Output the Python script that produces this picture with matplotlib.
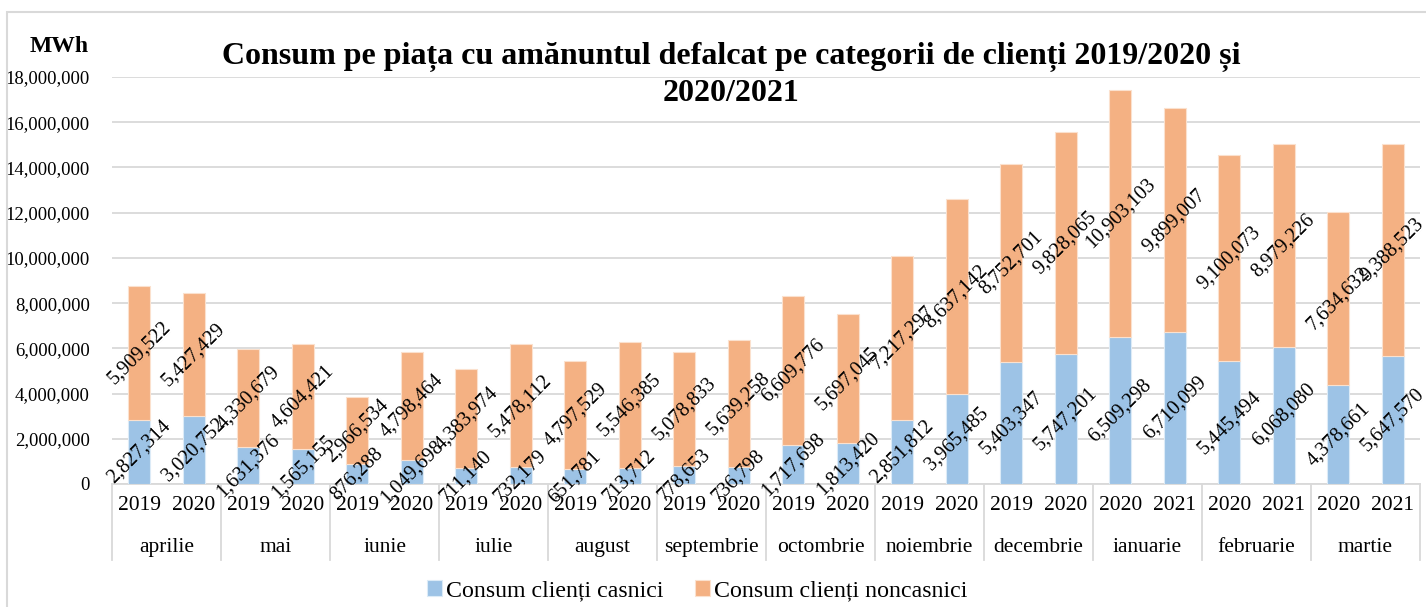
import numpy as np
import matplotlib
matplotlib.use("Agg")
from matplotlib import pyplot as plt
from matplotlib.patches import Rectangle

plt.rcParams['font.family'] = ['Liberation Serif', 'DejaVu Serif']

months = ['aprilie', 'mai', 'iunie', 'iulie', 'august', 'septembrie', 'octombrie',
          'noiembrie', 'decembrie', 'ianuarie', 'februarie', 'martie']
years = ['2019', '2020'] * 9 + ['2020', '2021'] * 3
casnici = [2827314, 3020752, 1631376, 1565155, 876288, 1049698, 711140, 732179,
           651781, 713712, 778653, 736798, 1717698, 1813420, 2851812, 3965485,
           5403347, 5747201, 6509298, 6710099, 5445494, 6068080, 4378661, 5647570]
noncasnici = [5909522, 5427429, 4330679, 4604421, 2966534, 4798464, 4383974, 5478112,
              4797529, 5546385, 5078833, 5639258, 6609776, 5697045, 7217297, 8637142,
              8752701, 9828065, 10903103, 9899007, 9100073, 8979226, 7634632, 9388523]

blue = '#9DC3E6'
orange = '#F4B183'

fig = plt.figure(figsize=(14.26, 6.07), dpi=100)
ax = fig.add_axes([112 / 1426, (607 - 484) / 607, (1420 - 112) / 1426, (484 - 77) / 607])

x = np.arange(len(years))
casnici = np.array(casnici)
noncasnici = np.array(noncasnici)
b1 = ax.bar(x, casnici, width=0.4, color=blue, edgecolor='#DCEBF7', linewidth=0.8,
            label='Consum clienți casnici', zorder=3)
b2 = ax.bar(x, noncasnici, width=0.4, bottom=casnici, color=orange, edgecolor='#FBE1CE',
            linewidth=0.8, label='Consum clienți noncasnici', zorder=3)

for xi, c, n in zip(x, casnici, noncasnici):
    ax.text(xi, c / 2, f'{c:,}', rotation=45, ha='center', va='center',
            fontsize=14.6, rotation_mode='anchor', zorder=4)
    ax.text(xi, c + n / 2, f'{n:,}', rotation=45, ha='center', va='center',
            fontsize=14.6, rotation_mode='anchor', zorder=4)

ax.set_xlim(-0.5, len(years) - 0.5)
ax.set_ylim(0, 18000000)
ax.set_yticks(np.arange(0, 18000001, 2000000))
ax.yaxis.set_major_formatter(matplotlib.ticker.FuncFormatter(lambda v, p: f'{int(v):,}'))
ax.tick_params(axis='y', length=0, labelsize=13.5, pad=16)
ax.grid(axis='y', color='#D9D9D9', linewidth=1.3, zorder=0)
for s in ['top', 'right', 'left']:
    ax.spines[s].set_visible(False)
ax.spines['bottom'].set_color('#D9D9D9')
ax.spines['bottom'].set_linewidth(1.3)

ax.set_xticks(x)
ax.set_xticklabels([])
ax.tick_params(axis='x', length=0)
for xi, yr in zip(x, years):
    ax.text(xi, -0.054, yr, transform=ax.get_xaxis_transform(), ha='center',
            va='center', fontsize=15.5)
for i, m in enumerate(months):
    ax.text(2 * i + 0.5, -0.157, m, transform=ax.get_xaxis_transform(), ha='center',
            va='center', fontsize=15.5)
for i in range(len(months) + 1):
    ax.plot([2 * i - 0.5, 2 * i - 0.5], [0, -0.187], transform=ax.get_xaxis_transform(),
            color='#D9D9D9', linewidth=1.3, clip_on=False)

fig.text(30 / 1426, 1 - 47 / 607, 'MWh', fontsize=17, fontweight='bold',
         ha='left', va='center')
fig.text(731 / 1426, 1 - 75 / 607,
         'Consum pe piața cu amănuntul defalcat pe categorii de clienți 2019/2020 și\n2020/2021',
         fontsize=23, fontweight='bold', ha='center', va='center', linespacing=1.3)

fig.legend(handles=[b1, b2], loc='center', bbox_to_anchor=(697 / 1426, 1 - 591 / 607),
           ncol=2, frameon=False, fontsize=17.2, handlelength=0.65, handleheight=0.65,
           handletextpad=0.15, columnspacing=1.3, borderpad=0)

fig.patches.append(Rectangle((7 / 1426, -0.1), 1.2, 1.1 - 12 / 607, transform=fig.transFigure,
                             fill=False, edgecolor='#D9D9D9', linewidth=1.5))

fig.savefig('out.png', dpi=100)
